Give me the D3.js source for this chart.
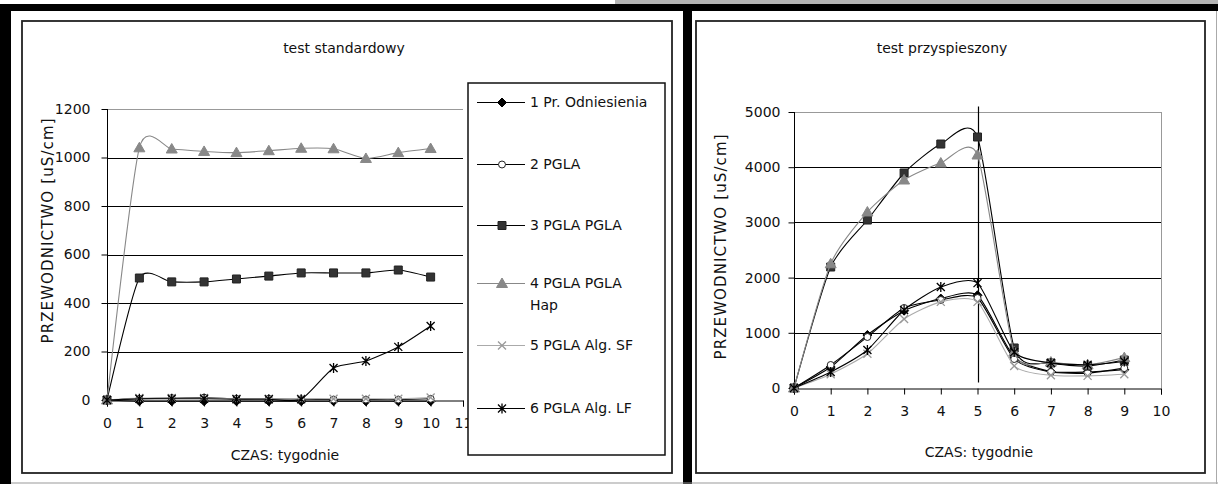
<!DOCTYPE html>
<html>
<head>
<meta charset="utf-8">
<script src="https://cdn.jsdelivr.net/npm/d3@7"></script>
<style>
  body { margin: 0; background: #fff; }
  text { font-family: "DejaVu Sans", sans-serif; font-size: 14px; fill: #111; }
</style>
</head>
<body>
<div id="vis"></div>
<script>
// data
var weeksStd = [0, 1, 2, 3, 4, 5, 6, 7, 8, 9, 10];
var weeksAcc = [0, 1, 2, 3, 4, 5, 6, 7, 8, 9];
var seriesNames = ['1 Pr. Odniesienia', '2 PGLA', '3 PGLA PGLA', '4 PGLA PGLA Hap', '5 PGLA Alg. SF', '6 PGLA Alg. LF'];

// test standardowy
var std1 = [0, -5, -5, -5, -5, -5, -5, -5, -5, -5, -5];
var std2 = [0, 5, 8, 10, 5, 5, 3, 2, 2, 2, 5];
var std3 = [0, 503, 487, 487, 499, 511, 524, 524, 524, 536, 507];
var std4 = [0, 1040, 1035, 1025, 1020, 1028, 1038, 1036, 996, 1020, 1037];
var std5 = [0, 8, 8, 8, 5, 5, 5, 5, 5, 5, 10];
var std6 = [0, 5, 5, 5, 3, 3, 3, 132, 161, 219, 305];

// test przyspieszony
var acc1 = [0, 380, 960, 1400, 1620, 1680, 560, 300, 290, 330];
var acc2 = [0, 417, 924, 1450, 1594, 1630, 525, 290, 270, 360];
var acc3 = [0, 2192, 3043, 3895, 4420, 4547, 725, 453, 398, 507];
var acc4 = [0, 2250, 3188, 3768, 4076, 4221, 650, 470, 420, 550];
var acc5 = [0, 250, 620, 1250, 1560, 1560, 400, 230, 220, 250];
var acc6 = [0, 290, 688, 1413, 1830, 1900, 650, 455, 420, 480];

var yTicksStd = [0, 200, 400, 600, 800, 1000, 1200];
var xTicksStd = [0, 1, 2, 3, 4, 5, 6, 7, 8, 9, 10, 11];
var yTicksAcc = [0, 1000, 2000, 3000, 4000, 5000];
var xTicksAcc = [0, 1, 2, 3, 4, 5, 6, 7, 8, 9, 10];

// styles per series: line colour, marker
var styles = [
  { line: '#000', marker: 'diamond', fill: '#000', stroke: '#000' },
  { line: '#000', marker: 'circle', fill: '#fff', stroke: '#222' },
  { line: '#000', marker: 'square', fill: '#333', stroke: '#222' },
  { line: '#888', marker: 'triangle', fill: '#888', stroke: '#888' },
  { line: '#aaa', marker: 'x', fill: 'none', stroke: '#999' },
  { line: '#000', marker: 'asterisk', fill: 'none', stroke: '#000' }
];

var svg = d3.select('#vis').append('svg')
  .attr('width', 1218)
  .attr('height', 484);

// page decorations (scan borders)
svg.append('rect').attr('x', 615).attr('y', 0).attr('width', 603).attr('height', 4).attr('fill', '#b4b4b4');
svg.append('rect').attr('x', 0).attr('y', 4).attr('width', 1218).attr('height', 7).attr('fill', '#000');
svg.append('rect').attr('x', 0).attr('y', 4).attr('width', 11).attr('height', 480).attr('fill', '#000');
svg.append('rect').attr('x', 683).attr('y', 4).attr('width', 9).attr('height', 480).attr('fill', '#000');
svg.append('line').attr('x1', 11).attr('x2', 1218).attr('y1', 483).attr('y2', 483).attr('stroke', '#999');
svg.append('line').attr('x1', 1216.5).attr('x2', 1216.5).attr('y1', 11).attr('y2', 484).attr('stroke', '#aaa');

// chart area frames
svg.append('rect').attr('x', 22).attr('y', 21).attr('width', 650).attr('height', 452)
  .attr('fill', 'none').attr('stroke', '#222').attr('stroke-width', 1.8);
svg.append('rect').attr('x', 696).attr('y', 21).attr('width', 509).attr('height', 452)
  .attr('fill', 'none').attr('stroke', '#222').attr('stroke-width', 1.8);

function markerPath(type) {
  if (type === 'diamond') return 'M0,-4.5L4.5,0L0,4.5L-4.5,0Z';
  if (type === 'circle') return d3.symbol(d3.symbolCircle, 38)();
  if (type === 'square') return 'M-4,-4H4V4H-4Z';
  if (type === 'triangle') return 'M0,-5.5L5.5,4L-5.5,4Z';
  if (type === 'x') return 'M-4,-4L4,4M-4,4L4,-4';
  return 'M-4,-4L4,4M-4,4L4,-4M0,-5V5';
}

function drawMarker(g, type, st, x, y) {
  g.append('path')
    .attr('d', markerPath(type))
    .attr('transform', 'translate(' + x + ',' + y + ')')
    .attr('fill', st.fill)
    .attr('stroke', st.stroke)
    .attr('stroke-width', (type === 'x' || type === 'asterisk') ? 1.3 : 1);
}

function drawChart(cfg) {
  var g = svg.append('g');
  var x = d3.scaleLinear().domain(cfg.xDomain).range(cfg.xRange);
  var y = d3.scaleLinear().domain(cfg.yDomain).range(cfg.yRange);
  var top = cfg.yTicks[cfg.yTicks.length - 1];

  // gridlines
  g.selectAll('.grid').data(cfg.yTicks.slice(1)).enter().append('line')
    .attr('x1', cfg.xRange[0]).attr('x2', cfg.xRange[1])
    .attr('y1', function(d) { return Math.round(y(d)) + 0.5; })
    .attr('y2', function(d) { return Math.round(y(d)) + 0.5; })
    .attr('stroke', function(d) { return d === top ? '#999' : '#000'; })
    .attr('stroke-width', 1);
  if (cfg.rightBorder) {
    g.append('line')
      .attr('x1', cfg.xRange[1] + 0.5).attr('x2', cfg.xRange[1] + 0.5)
      .attr('y1', y(top)).attr('y2', y(0))
      .attr('stroke', '#999');
  }

  // axes
  var yAxis = d3.axisLeft(y).tickValues(cfg.yTicks).tickSize(6).tickPadding(cfg.yPad).tickFormat(d3.format('d'));
  var xAxis = d3.axisBottom(x).tickValues(cfg.xTicks).tickSize(6).tickPadding(12).tickFormat(d3.format('d'));
  var ya = g.append('g').attr('transform', 'translate(' + (Math.round(x(0)) + 0.5) + ',0)').call(yAxis);
  var xa = g.append('g').attr('transform', 'translate(0,' + (Math.round(y(0)) + 0.5) + ')').call(xAxis);
  [ya, xa].forEach(function(a) {
    a.select('.domain').attr('stroke', '#000');
    a.selectAll('.tick line').attr('stroke', '#000');
    a.selectAll('text').attr('fill', '#111').style('font-family', '"DejaVu Sans", sans-serif').style('font-size', '14px');
  });
  ya.select('.domain').attr('d', 'M0,' + y(top) + 'V' + y(0));

  if (cfg.vline) {
    g.append('line')
      .attr('x1', Math.round(x(cfg.vline.x)) + 0.5).attr('x2', Math.round(x(cfg.vline.x)) + 0.5)
      .attr('y1', y(cfg.vline.y1)).attr('y2', y(cfg.vline.y0))
      .attr('stroke', '#000').attr('stroke-width', 1.2);
  }

  // series, smoothed like the spreadsheet's "smooth line"
  var line = d3.line()
    .x(function(d) { return x(d[0]); })
    .y(function(d) { return y(d[1]); })
    .curve(d3.curveCardinal.tension(0.35));

  cfg.series.forEach(function(vals, i) {
    var pts = cfg.xs.map(function(xv, j) { return [xv, vals[j]]; });
    var st = styles[i];
    g.append('path').datum(pts)
      .attr('d', line)
      .attr('fill', 'none')
      .attr('stroke', st.line)
      .attr('stroke-width', 1.1);
    pts.forEach(function(p) { drawMarker(g, st.marker, st, x(p[0]), y(p[1])); });
  });

  // titles
  g.append('text').attr('x', cfg.title.x).attr('y', 48).attr('text-anchor', 'middle')
    .attr('dominant-baseline', 'central').text(cfg.title.text);
  g.append('text').attr('x', cfg.xTitle.x).attr('y', cfg.xTitle.y).attr('text-anchor', 'middle')
    .attr('dominant-baseline', 'central').text('CZAS: tygodnie');
  g.append('text')
    .attr('transform', 'translate(' + cfg.yTitle.x + ',' + cfg.yTitle.y + ') rotate(-90)')
    .attr('text-anchor', 'middle').attr('dominant-baseline', 'central')
    .style('font-size', '15px')
    .attr('textLength', 225).attr('lengthAdjust', 'spacing')
    .text('PRZEWODNICTWO [uS/cm]');
}

drawChart({
  xs: weeksStd,
  series: [std1, std2, std3, std4, std5, std6],
  xDomain: [0, 11], xRange: [107, 463],
  yDomain: [0, 1200], yRange: [400, 109],
  yTicks: yTicksStd, xTicks: xTicksStd, yPad: 11,
  rightBorder: false,
  title: { x: 344, text: 'test standardowy' },
  xTitle: { x: 285, y: 455 },
  yTitle: { x: 48, y: 231 }
});

drawChart({
  xs: weeksAcc,
  series: [acc1, acc2, acc3, acc4, acc5, acc6],
  xDomain: [0, 10], xRange: [794, 1161],
  yDomain: [0, 5000], yRange: [388, 112],
  yTicks: yTicksAcc, xTicks: xTicksAcc, yPad: 8,
  rightBorder: true,
  vline: { x: 5, y0: 100, y1: 5100 },
  title: { x: 942, text: 'test przyspieszony' },
  xTitle: { x: 979, y: 452 },
  yTitle: { x: 721, y: 247 }
});

// legend (left chart)
var legend = svg.append('g');
legend.append('rect').attr('x', 468).attr('y', 83).attr('width', 197).attr('height', 372)
  .attr('fill', '#fff').attr('stroke', '#111').attr('stroke-width', 1.5);
var legendY = [102, 164, 225, 283, 345, 408];
seriesNames.forEach(function(name, i) {
  var st = styles[i];
  var ly = legendY[i];
  legend.append('line').attr('x1', 477).attr('x2', 525).attr('y1', ly + 0.5).attr('y2', ly + 0.5)
    .attr('stroke', st.line).attr('stroke-width', 1.1);
  drawMarker(legend, st.marker, st, 502, ly + 0.5);
  if (i === 3) {
    var t = legend.append('text').attr('x', 530).attr('y', ly).attr('dominant-baseline', 'central');
    t.append('tspan').attr('x', 530).attr('y', ly).text('4 PGLA PGLA');
    t.append('tspan').attr('x', 530).attr('y', ly + 22).text('Hap');
  } else {
    legend.append('text').attr('x', 530).attr('y', ly).attr('dominant-baseline', 'central').text(name);
  }
});
</script>
</body>
</html>
